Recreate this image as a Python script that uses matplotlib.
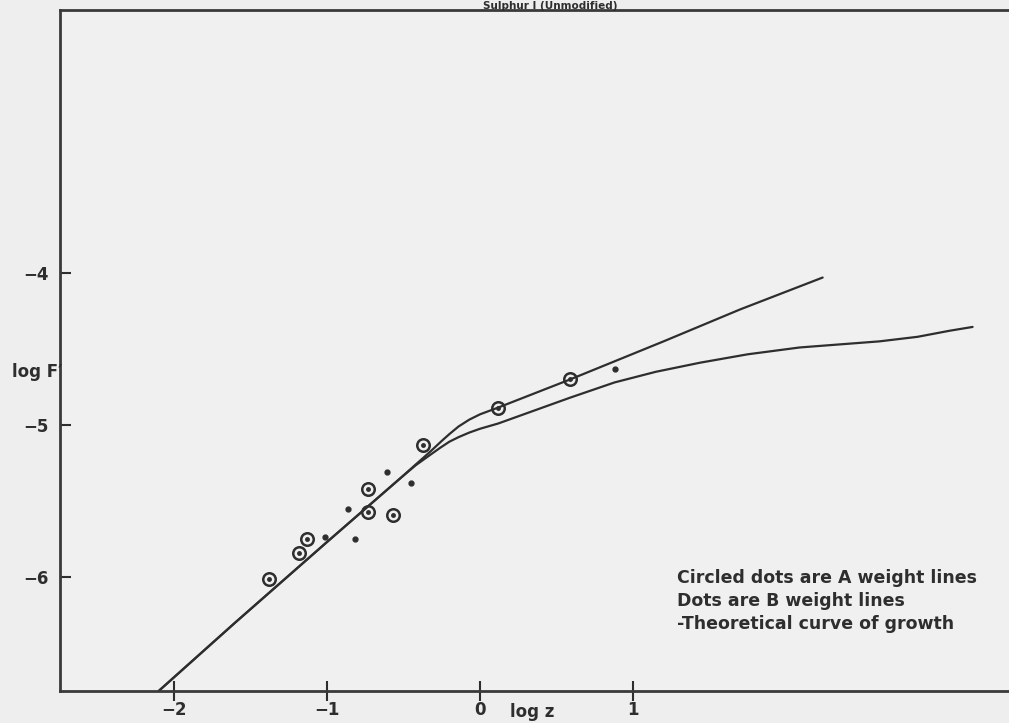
import matplotlib
matplotlib.use('Agg')
import matplotlib.pyplot as plt


# theoretical curves of growth (log z, log F')
upper_x = [-2.10, -1.60, -1.00, -0.52, -0.42, -0.33, -0.25, -0.20, -0.14, -0.07, 0.00,
           0.12, 0.59, 1.20, 1.70, 2.24]
upper_y = [-6.75, -6.30, -5.77, -5.35, -5.26, -5.18, -5.105, -5.06, -5.01, -4.965, -4.93,
           -4.885, -4.70, -4.45, -4.24, -4.03]

lower_x = [-2.10, -1.60, -1.00, -0.52, -0.42, -0.33, -0.26, -0.20, -0.14, -0.07, 0.00,
           0.12, 0.59, 0.88, 1.15, 1.44, 1.75, 2.09, 2.61, 2.86, 3.07, 3.22]
lower_y = [-6.75, -6.30, -5.77, -5.35, -5.265, -5.20, -5.15, -5.11, -5.08, -5.05, -5.025,
           -4.99, -4.82, -4.72, -4.65, -4.59, -4.535, -4.49, -4.45, -4.42, -4.38, -4.355]

# A weight lines (circled dots)
a_x = [-1.38, -1.18, -1.13, -0.73, -0.73, -0.57, -0.37, 0.12, 0.59]
a_y = [-6.01, -5.84, -5.75, -5.42, -5.57, -5.59, -5.13, -4.89, -4.70]

# B weight lines (dots)
b_x = [-1.01, -0.86, -0.82, -0.61, -0.45, 0.88]
b_y = [-5.74, -5.55, -5.75, -5.31, -5.38, -4.63]

x_ticks = [-2, -1, 0, 1]
y_ticks = [-6, -5, -4]

title = 'Sulphur I (Unmodified)'
legend_lines = ['Circled dots are A weight lines',
                'Dots are B weight lines',
                '-Theoretical curve of growth']


def main():
    ink = '#2e2e2e'
    plt.rcParams['font.family'] = ['DejaVu Sans']
    plt.rcParams['font.weight'] = 'bold'

    fig = plt.figure(figsize=(10.09, 7.23), dpi=100, facecolor='#eeeeee')
    ax = fig.add_axes([60 / 1009, 1 - 691 / 723, 1 - 60 / 1009, (691 - 10) / 723])
    ax.set_facecolor('#f0f0f0')

    ax.plot(upper_x, upper_y, color=ink, lw=1.6, solid_capstyle='round', solid_joinstyle='round')
    ax.plot(lower_x, lower_y, color=ink, lw=1.6, solid_capstyle='round', solid_joinstyle='round')

    # circled dots: open ring with a dot in the middle
    ax.plot(a_x, a_y, 'o', ms=9, mfc='none', mec=ink, mew=1.8)
    ax.plot(a_x, a_y, 'o', ms=2.5, color=ink)
    ax.plot(b_x, b_y, 'o', ms=3.5, color=ink)

    ax.set_xlim(-2.745, 3.458)
    ax.set_ylim(-6.75, -2.27)

    for side in ['left', 'bottom', 'top']:
        ax.spines[side].set_linewidth(2)
        ax.spines[side].set_color('#3a3a3a')
    ax.spines['right'].set_visible(False)

    ax.set_xticks(x_ticks)
    ax.set_yticks(y_ticks)
    ax.tick_params(axis='x', direction='inout', length=14, width=1.5, color=ink,
                   labelsize=12, pad=0, labelcolor=ink)
    ax.tick_params(axis='y', direction='in', length=8, width=1.5, color=ink,
                   labelsize=12, pad=8, labelcolor=ink)

    fig.text(532 / 1009, 1 - 712 / 723, 'log z', ha='center', va='center',
             fontsize=12, fontweight='bold', color=ink)
    fig.text(12 / 1009, 1 - 372 / 723, "log F\u2032", ha='left', va='center',
             fontsize=12, fontweight='bold', color=ink)
    # title sits right on the top frame line, kept small so it stays inside the picture
    fig.text(550 / 1009, 1 - 1 / 723, title, ha='center', va='top',
             fontsize=7.5, fontweight='bold', color=ink, zorder=5)

    for i, line in enumerate(legend_lines):
        fig.text(677 / 1009, 1 - (578 + 23 * i) / 723, line, ha='left', va='center',
                 fontsize=12.5, fontweight='bold', color=ink)

    fig.savefig('out.png', dpi=100, facecolor=fig.get_facecolor())


if __name__ == "__main__":
    main()
